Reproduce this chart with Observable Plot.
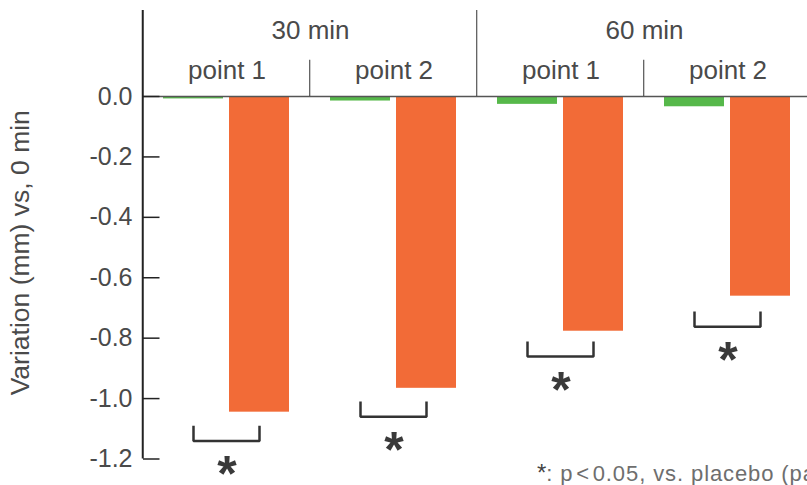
<!DOCTYPE html>
<html><head><meta charset="utf-8">
<script src="https://cdn.jsdelivr.net/npm/d3@7"></script>
<script src="https://cdn.jsdelivr.net/npm/@observablehq/plot@0.6"></script>
<style>
html,body{margin:0;padding:0;overflow:hidden;background:#fff;}
#wrap{position:relative;width:807px;height:485px;overflow:hidden;}
#wrap svg{max-width:none !important;}
#note{position:absolute;left:537px;top:459px;font:22px "Liberation Sans",Arial,sans-serif;color:#6e6e6e;white-space:nowrap;letter-spacing:0.9px;}
#note .st{color:#444;font-size:24px;letter-spacing:0;}
</style></head><body><div id="wrap"><div id="note"><span class="st">*</span>: p&#8202;&lt;&#8202;0.05, vs. placebo (paired t-test)</div></div>
<script>
// ---- data ----
const times = ["30 min", "60 min"];
const points = ["point 1", "point 2"];
const series = ["placebo", "active"];
const placeboValues = [-0.008, -0.015, -0.026, -0.034];
const activeValues = [-1.045, -0.966, -0.777, -0.661];
const bracketLevels = [-1.14, -1.06, -0.861, -0.762];
const yTicks = [0, -0.2, -0.4, -0.6, -0.8, -1.0, -1.2];
const yLabel = "Variation (mm) vs, 0 min";

// ---- tables built from the arrays ----
const groups = times.flatMap(t => points.map(p => ({time: t, point: p, key: t + " / " + p})));
const keys = groups.map(g => g.key);
const bars = groups.flatMap((g, i) => [
  {key: g.key, series: series[0], value: placeboValues[i]},
  {key: g.key, series: series[1], value: activeValues[i]}
]);
const armH = 0.05;
const brackets = groups.flatMap((g, i) => [
  {key: g.key, series: series[0], y: bracketLevels[i] + armH},
  {key: g.key, series: series[0], y: bracketLevels[i]},
  {key: g.key, series: series[1], y: bracketLevels[i]},
  {key: g.key, series: series[1], y: bracketLevels[i] + armH}
]);
const stars = groups.map((g, i) => ({key: g.key, y: bracketLevels[i]}));

// ---- layout / style ----
const W = 815, H = 485, ML = 142, MR = 3, MT = 10, MB = 26.5;
const fw = (W - ML - MR) / keys.length;
const yTop = 0.2847;
const headerSplit = 0.12;
const font = '"Liberation Sans", Arial, Helvetica, sans-serif';
const ink = "#333";
const textColor = "#4a4a4a";
const lw = 1.5;
const starSize = 50;

const chart = Plot.plot({
  width: W, height: H,
  marginLeft: ML, marginRight: MR, marginTop: MT, marginBottom: MB,
  style: {fontFamily: font, color: textColor, background: "white", overflow: "visible"},
  fx: {domain: keys, padding: 0, axis: null},
  x: {domain: series, paddingInner: 6 / 67, paddingOuter: 0.2948, axis: null},
  y: {domain: [-1.2, yTop]},
  color: {domain: series, range: ["#56b84a", "#f26b37"]},
  marks: [
    Plot.barY(bars, {fx: "key", x: "series", y: "value", fill: "series"}),
    Plot.ruleY([0], {stroke: "#555", strokeWidth: lw}),
    // tall separators between time blocks
    Plot.rect(groups.filter((g, i) => i > 0 && g.point === points[0]), {fx: "key", y1: 0, y2: yTop, fill: ink, insetLeft: -lw / 2, insetRight: fw - lw / 2}),
    // short separators between points
    Plot.rect(groups.filter(g => g.point === points[1]), {fx: "key", y1: 0, y2: headerSplit, fill: ink, insetLeft: -lw / 2, insetRight: fw - lw / 2}),
    // y axis line
    Plot.rect([groups[0]], {fx: "key", y1: -1.2, y2: yTop, fill: "#222", insetLeft: -1.25, insetRight: fw - 1.25}),
    // inward ticks
    Plot.ruleY(yTicks, {fx: () => keys[0], y: d => d, stroke: "#222", strokeWidth: lw, insetRight: fw - 17}),
    Plot.axisY({ticks: yTicks, tickSize: 0, tickPadding: 11, tickFormat: d => d.toFixed(1), fontSize: 25, label: null}),
    Plot.text([yLabel], {fx: () => keys[0], text: d => d, frameAnchor: "left", rotate: -90, textAnchor: "middle", lineAnchor: "middle", dx: -123, dy: 18, fontSize: 26.5, fill: textColor}),
    // headers
    Plot.text(groups, {fx: "key", text: "point", frameAnchor: "top", lineAnchor: "bottom", dy: 68, fontSize: 26, fill: textColor}),
    Plot.text(groups.filter(g => g.point === points[0]), {fx: "key", text: "time", frameAnchor: "top-right", textAnchor: "middle", lineAnchor: "bottom", dy: 28, fontSize: 26, fill: textColor}),
    // significance brackets
    Plot.line(brackets, {fx: "key", x: "series", y: "y", z: "key", stroke: ink, strokeWidth: 2.5, strokeLinejoin: "miter", strokeLinecap: "butt"}),
    Plot.text(stars, {fx: "key", y: "y", text: () => "*", frameAnchor: "middle", lineAnchor: "bottom", dy: 22.5 + 0.552 * starSize, fontSize: starSize, fontWeight: "bold", fill: "#3a3a3a"})
  ]
});
document.getElementById("wrap").prepend(chart);
</script></body></html>
